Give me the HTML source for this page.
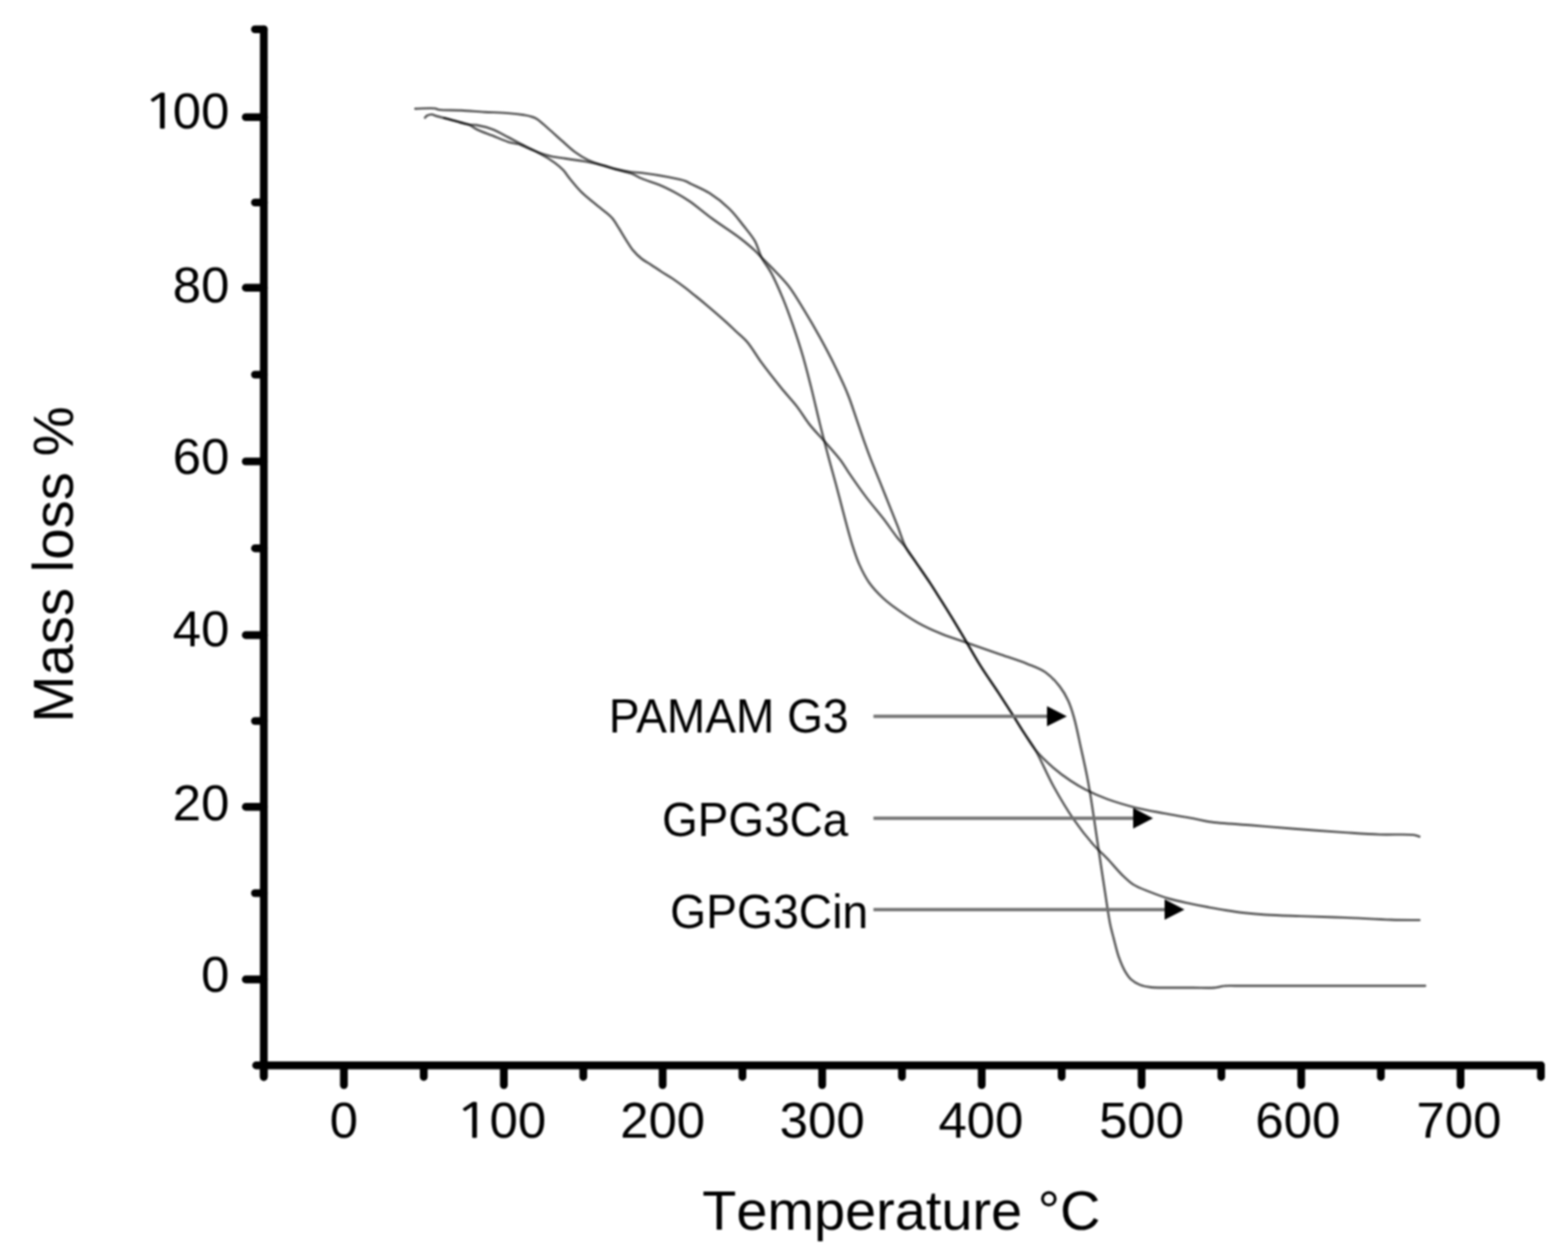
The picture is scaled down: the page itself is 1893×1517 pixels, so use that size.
<!DOCTYPE html>
<html><head><meta charset="utf-8"><title>TGA curves</title>
<style>html,body{margin:0;padding:0;background:#fff;}svg{display:block;}
#wrap{filter:blur(1px);}</style>
</head><body><div id="wrap">
<svg width="1893" height="1517" viewBox="0 0 1893 1517">
<rect width="1893" height="1517" fill="#fff"/>
<path d="M513.1 142.0 C514.0 141.1 514.6 140.0 515.8 139.4 C517.2 138.6 519.5 138.0 521.3 138.1 C523.1 138.2 524.6 139.4 526.7 140.0 C529.4 140.8 532.9 141.5 536.2 142.4 C539.8 143.3 543.8 144.4 547.3 145.4 C550.5 146.3 553.5 147.2 556.6 148.0 C559.7 148.8 562.9 149.9 566.1 150.4 C569.2 150.9 571.9 150.4 575.6 151.0 C580.9 151.9 588.4 153.7 594.6 156.1 C601.1 158.6 607.7 162.6 613.6 165.6 C618.7 168.2 623.6 171.0 627.9 173.2 C631.4 175.0 633.9 176.3 637.4 178.0 C641.6 180.1 646.8 182.9 651.6 184.7 C656.2 186.4 660.5 187.6 665.4 188.7 C670.7 189.9 676.7 190.4 682.3 191.3 C687.9 192.1 694.0 193.0 699.2 193.8 C703.7 194.5 707.2 194.9 711.8 195.8 C717.3 196.9 724.4 198.5 730.0 200.0 C734.8 201.3 738.4 202.8 743.3 204.0 C749.0 205.4 756.6 206.8 762.3 207.6 C766.9 208.2 769.8 208.0 774.9 208.6 C783.1 209.6 797.1 211.8 806.6 213.7 C814.4 215.2 822.7 216.8 827.7 218.6 C830.6 219.7 831.4 220.6 834.3 222.0 C839.5 224.6 849.2 228.5 856.5 233.1 C864.6 238.2 873.5 245.2 880.5 252.0 C887.1 258.4 892.4 265.8 897.7 272.5 C902.6 278.7 907.7 284.5 911.4 291.0 C914.9 297.3 916.1 304.4 919.4 310.8 C922.8 317.4 927.5 322.7 931.4 330.0 C936.1 338.8 940.8 349.8 945.1 360.0 C949.4 370.4 953.2 380.9 957.1 392.0 C961.2 403.9 965.4 416.5 969.1 429.1 C972.9 441.9 976.0 454.7 979.4 468.0 C982.9 482.0 986.3 497.2 989.7 511.0 C992.9 524.0 996.1 536.1 999.4 548.6 C1002.7 561.2 1006.3 573.6 1009.7 586.3 C1013.2 599.3 1016.7 613.4 1020.0 625.7 C1022.9 636.6 1025.6 646.9 1028.6 656.5 C1031.3 665.0 1033.7 672.8 1037.1 680.5 C1040.5 688.2 1044.3 695.9 1049.1 702.8 C1054.0 709.8 1061.0 717.0 1066.3 722.0 C1070.2 725.7 1072.5 727.4 1077.1 730.8 C1084.7 736.4 1097.6 745.5 1108.0 751.4 C1117.6 756.8 1127.3 761.1 1137.1 765.1 C1146.7 769.1 1155.8 771.7 1166.3 775.4 C1178.4 779.7 1193.0 784.7 1205.7 789.1 C1217.5 793.2 1229.9 797.0 1240.0 801.1 C1248.3 804.5 1255.6 806.8 1262.2 811.4 C1268.7 816.0 1274.7 822.5 1279.4 828.5 C1283.7 834.0 1286.8 839.6 1289.6 845.7 C1292.5 852.0 1294.4 858.2 1296.6 866.0 C1299.6 876.4 1302.3 890.7 1305.0 902.8 C1307.6 914.4 1310.2 925.6 1312.4 937.1 C1314.6 948.5 1316.5 960.0 1318.3 971.4 C1320.1 982.8 1321.7 994.3 1323.4 1005.7 C1325.1 1017.1 1326.8 1028.6 1328.5 1040.0 C1330.2 1051.4 1332.1 1063.8 1333.7 1074.2 C1335.0 1082.9 1336.1 1090.5 1337.3 1098.0 C1338.4 1104.7 1339.3 1111.0 1340.6 1117.0 C1341.8 1122.5 1343.1 1127.1 1344.6 1132.8 C1346.4 1139.6 1348.3 1148.2 1350.7 1155.0 C1352.9 1161.1 1355.3 1167.1 1358.1 1171.9 C1360.4 1175.8 1362.5 1179.2 1365.5 1182.0 C1368.5 1184.8 1372.2 1186.9 1376.1 1188.5 C1380.2 1190.2 1384.8 1190.9 1389.8 1191.5 C1395.9 1192.2 1402.6 1191.9 1410.0 1192.0 C1419.0 1192.1 1430.4 1192.0 1440.0 1192.0 C1449.0 1192.0 1460.4 1192.5 1466.0 1192.0 C1468.7 1191.8 1470.0 1191.3 1472.0 1191.0 C1474.0 1190.6 1475.4 1190.1 1478.0 1189.9 C1483.0 1189.4 1490.0 1189.8 1500.0 1189.8 C1521.3 1189.8 1565.1 1189.8 1600.0 1189.8 C1638.3 1189.8 1680.3 1189.8 1720.5 1189.8" fill="none" stroke="#000" stroke-opacity="0.64" stroke-width="2.9" stroke-linejoin="round" stroke-linecap="round"/>
<path d="M501.4 131.2 C509.3 131.1 520.1 130.2 525.0 130.9 C527.3 131.2 527.6 132.0 530.0 132.4 C535.3 133.3 547.6 132.8 556.6 133.3 C565.9 133.8 575.6 134.6 585.1 135.2 C594.6 135.7 605.1 135.9 613.6 136.6 C620.6 137.2 627.6 138.0 632.6 138.8 C636.0 139.4 638.4 139.8 641.0 140.6 C643.5 141.4 645.4 141.8 648.0 143.4 C652.1 145.9 657.4 151.3 662.3 155.5 C667.5 160.0 672.8 165.0 678.1 169.7 C683.4 174.3 688.5 179.4 694.0 183.4 C699.1 187.1 704.4 190.4 709.8 193.0 C715.0 195.5 720.2 197.1 725.6 199.0 C731.3 200.9 737.3 202.7 743.3 204.4 C749.5 206.2 756.7 207.4 762.3 209.5 C767.0 211.2 770.1 213.5 774.9 215.5 C781.0 218.1 789.0 220.2 796.0 223.2 C803.1 226.2 810.6 230.0 817.1 233.5 C822.9 236.7 827.1 239.2 833.0 243.2 C840.9 248.7 850.4 256.9 860.0 264.0 C870.6 271.8 884.9 280.8 894.2 288.0 C901.0 293.3 906.8 298.2 911.4 302.5 C914.7 305.6 916.4 307.8 919.4 310.8 C923.0 314.4 926.9 318.1 931.4 322.8 C937.4 329.0 945.6 336.9 952.0 345.1 C958.8 353.9 964.6 364.2 970.8 374.3 C977.2 384.8 983.5 395.6 989.7 406.8 C996.1 418.4 1002.7 430.9 1008.5 442.8 C1014.1 454.3 1019.6 466.0 1024.0 477.1 C1028.0 487.1 1030.8 496.4 1034.2 506.2 C1037.6 516.1 1041.4 527.5 1044.5 536.0 C1046.8 542.5 1048.3 546.6 1050.8 553.0 C1054.1 561.6 1059.0 573.2 1062.8 582.8 C1066.4 591.7 1069.7 599.9 1073.1 608.5 C1076.5 617.1 1080.0 625.5 1083.4 634.2 C1086.9 643.0 1089.6 653.2 1093.7 661.0 C1097.2 667.7 1101.3 672.1 1105.7 678.5 C1110.9 686.1 1118.0 696.3 1122.8 703.5 C1126.4 709.0 1128.8 712.9 1132.0 718.0 C1135.6 723.7 1140.0 730.6 1143.4 736.0 C1146.1 740.4 1147.9 743.2 1150.8 748.0 C1155.0 755.0 1161.0 765.1 1166.3 774.0 C1171.9 783.4 1177.2 793.1 1183.4 803.0 C1190.2 813.9 1198.8 826.0 1205.7 836.5 C1211.7 845.7 1217.2 854.2 1222.5 862.5 C1227.3 870.0 1231.4 876.9 1236.0 884.0 C1240.5 891.0 1244.2 897.9 1249.7 904.6 C1255.9 912.2 1264.5 920.3 1272.0 926.8 C1278.8 932.7 1285.8 937.8 1292.5 942.3 C1298.4 946.2 1303.2 949.2 1309.7 952.5 C1317.7 956.6 1327.3 960.9 1337.1 964.5 C1347.8 968.4 1359.9 971.9 1371.4 974.8 C1382.8 977.6 1394.3 979.5 1405.7 981.7 C1417.1 983.8 1430.1 985.8 1440.0 987.7 C1447.6 989.1 1451.7 990.5 1460.0 991.7 C1473.1 993.6 1494.3 994.6 1511.4 996.0 C1528.5 997.4 1545.0 998.9 1562.8 1000.3 C1582.0 1001.8 1604.5 1003.4 1622.8 1004.6 C1638.3 1005.6 1651.5 1006.6 1665.6 1007.1 C1679.4 1007.6 1698.8 1006.4 1706.7 1007.6 C1710.0 1008.1 1711.3 1009.0 1713.6 1009.7" fill="none" stroke="#000" stroke-opacity="0.64" stroke-width="2.9" stroke-linejoin="round" stroke-linecap="round"/>
<path d="M536.2 142.4 C539.9 143.4 543.8 144.4 547.3 145.4 C550.5 146.3 553.5 147.2 556.6 148.0 C559.7 148.8 563.0 149.1 566.1 150.4 C569.4 151.8 571.8 154.2 575.6 156.1 C580.8 158.7 588.3 161.2 594.6 163.7 C600.9 166.2 608.3 169.7 613.6 171.3 C617.3 172.4 620.5 172.8 623.1 173.4 C625.0 173.8 626.1 173.9 627.9 174.5 C630.6 175.4 633.9 177.2 637.4 178.8 C641.7 180.7 646.7 182.6 651.6 185.2 C657.3 188.2 664.5 192.6 669.6 196.3 C673.7 199.3 677.0 202.1 680.0 205.3 C682.9 208.3 684.5 211.4 687.4 215.0 C691.2 219.7 696.5 226.3 701.1 231.0 C705.3 235.2 709.3 238.4 713.8 242.2 C718.7 246.3 725.0 251.0 729.6 254.8 C733.2 257.9 736.2 260.0 739.1 263.3 C742.2 266.9 744.7 271.6 747.5 275.9 C750.3 280.4 753.0 285.2 755.9 289.7 C758.7 294.0 761.2 298.5 764.4 302.3 C767.5 306.1 771.2 309.6 774.9 312.5 C778.3 315.2 781.8 316.8 785.5 319.2 C789.5 321.8 793.8 324.8 798.1 327.6 C802.5 330.5 807.1 333.0 811.8 336.1 C817.0 339.6 822.8 343.9 827.7 347.7 C832.1 351.1 836.0 354.3 840.0 357.5 C843.9 360.6 846.9 363.0 851.4 366.8 C858.3 372.6 870.3 382.9 877.1 389.1 C881.7 393.3 884.6 396.2 888.6 400.0 C893.0 404.1 897.8 407.7 902.3 413.0 C908.0 419.7 913.1 429.1 919.4 437.7 C926.6 447.5 935.8 459.1 943.4 468.5 C950.0 476.6 956.5 483.3 962.3 490.8 C967.7 497.8 971.8 505.2 977.1 512.0 C982.4 518.8 988.3 524.6 994.3 531.4 C1000.9 538.9 1009.3 548.1 1014.8 555.4 C1019.0 561.0 1021.0 565.0 1025.1 571.0 C1030.7 579.2 1038.7 590.7 1045.7 600.0 C1052.4 608.9 1059.8 617.3 1066.3 625.7 C1072.4 633.6 1078.3 642.6 1083.4 649.0 C1087.2 653.7 1090.3 656.5 1093.7 661.0 C1097.7 666.2 1101.3 672.1 1105.7 678.5 C1110.9 686.1 1118.0 696.3 1122.8 703.5 C1126.4 709.0 1128.8 712.9 1132.0 718.0 C1135.6 723.7 1140.0 730.6 1143.4 736.0 C1146.1 740.4 1147.9 743.2 1150.8 748.0 C1155.0 755.0 1161.0 765.1 1166.3 774.0 C1171.9 783.4 1177.2 793.1 1183.4 803.0 C1190.2 813.9 1198.8 826.0 1205.7 836.5 C1211.7 845.7 1217.2 854.2 1222.5 862.5 C1227.3 870.0 1231.4 876.9 1236.0 884.0 C1240.5 891.0 1244.9 896.2 1249.7 904.6 C1256.6 916.4 1264.1 934.9 1272.0 949.1 C1279.6 962.8 1287.6 976.4 1296.0 988.5 C1303.7 999.7 1312.4 1010.8 1320.0 1019.4 C1326.0 1026.2 1331.5 1030.6 1337.1 1036.5 C1342.9 1042.6 1348.6 1050.0 1354.2 1055.4 C1358.9 1060.0 1362.7 1064.0 1368.0 1067.4 C1373.9 1071.2 1381.5 1073.7 1388.5 1076.5 C1395.8 1079.4 1403.1 1082.2 1411.0 1084.5 C1419.4 1086.9 1429.0 1088.8 1437.3 1090.6 C1444.7 1092.2 1451.4 1093.5 1458.5 1094.8 C1465.5 1096.1 1472.4 1097.4 1479.6 1098.5 C1487.1 1099.7 1494.9 1100.9 1502.8 1101.8 C1511.1 1102.7 1518.9 1103.4 1528.5 1104.0 C1540.6 1104.8 1555.1 1105.1 1569.7 1105.6 C1586.3 1106.2 1604.8 1106.7 1622.8 1107.4 C1641.3 1108.1 1662.8 1109.5 1679.3 1110.0 C1692.1 1110.4 1702.2 1110.3 1713.6 1110.4" fill="none" stroke="#000" stroke-opacity="0.64" stroke-width="2.9" stroke-linejoin="round" stroke-linecap="round"/>
<line x1="1054.5" y1="864.4" x2="1266.0" y2="864.4" stroke="#727272" stroke-width="4.0"/>
<polygon points="1264.0,852.2 1288.0,864.4 1264.0,876.6" fill="#000"/>
<line x1="1054.5" y1="987.6" x2="1370.0" y2="987.6" stroke="#727272" stroke-width="4.0"/>
<polygon points="1368.0,975.1 1392.0,987.6 1368.0,1000.1" fill="#000"/>
<line x1="1054.5" y1="1097.7" x2="1408.0" y2="1097.7" stroke="#727272" stroke-width="4.0"/>
<polygon points="1406.0,1085.3 1430.0,1097.7 1406.0,1110.1" fill="#000"/>
<line x1="318.5" y1="35.4" x2="318.5" y2="1299.8" stroke="#000" stroke-width="9.4" stroke-linecap="round" fill="none"/>
<line x1="309.2" y1="1285.8" x2="1860.3" y2="1285.8" stroke="#000" stroke-width="9.4" stroke-linecap="round" fill="none"/>
<line x1="296.7" y1="141.4" x2="318.5" y2="141.4" stroke="#000" stroke-width="9.4" stroke-linecap="round" fill="none"/>
<line x1="296.7" y1="347.3" x2="318.5" y2="347.3" stroke="#000" stroke-width="9.4" stroke-linecap="round" fill="none"/>
<line x1="296.7" y1="556.9" x2="318.5" y2="556.9" stroke="#000" stroke-width="9.4" stroke-linecap="round" fill="none"/>
<line x1="296.7" y1="766.5" x2="318.5" y2="766.5" stroke="#000" stroke-width="9.4" stroke-linecap="round" fill="none"/>
<line x1="296.7" y1="973.7" x2="318.5" y2="973.7" stroke="#000" stroke-width="9.4" stroke-linecap="round" fill="none"/>
<line x1="296.7" y1="1182.0" x2="318.5" y2="1182.0" stroke="#000" stroke-width="9.4" stroke-linecap="round" fill="none"/>
<line x1="307.8" y1="35.4" x2="318.5" y2="35.4" stroke="#000" stroke-width="9.4" stroke-linecap="round" fill="none"/>
<line x1="307.8" y1="244.4" x2="318.5" y2="244.4" stroke="#000" stroke-width="9.4" stroke-linecap="round" fill="none"/>
<line x1="307.8" y1="452.1" x2="318.5" y2="452.1" stroke="#000" stroke-width="9.4" stroke-linecap="round" fill="none"/>
<line x1="307.8" y1="661.7" x2="318.5" y2="661.7" stroke="#000" stroke-width="9.4" stroke-linecap="round" fill="none"/>
<line x1="307.8" y1="870.1" x2="318.5" y2="870.1" stroke="#000" stroke-width="9.4" stroke-linecap="round" fill="none"/>
<line x1="307.8" y1="1077.9" x2="318.5" y2="1077.9" stroke="#000" stroke-width="9.4" stroke-linecap="round" fill="none"/>
<line x1="415.2" y1="1285.8" x2="415.2" y2="1309.6" stroke="#000" stroke-width="9.4" stroke-linecap="round" fill="none"/>
<line x1="608.3" y1="1285.8" x2="608.3" y2="1309.6" stroke="#000" stroke-width="9.4" stroke-linecap="round" fill="none"/>
<line x1="800.0" y1="1285.8" x2="800.0" y2="1309.6" stroke="#000" stroke-width="9.4" stroke-linecap="round" fill="none"/>
<line x1="992.6" y1="1285.8" x2="992.6" y2="1309.6" stroke="#000" stroke-width="9.4" stroke-linecap="round" fill="none"/>
<line x1="1185.2" y1="1285.8" x2="1185.2" y2="1309.6" stroke="#000" stroke-width="9.4" stroke-linecap="round" fill="none"/>
<line x1="1378.2" y1="1285.8" x2="1378.2" y2="1309.6" stroke="#000" stroke-width="9.4" stroke-linecap="round" fill="none"/>
<line x1="1570.9" y1="1285.8" x2="1570.9" y2="1309.6" stroke="#000" stroke-width="9.4" stroke-linecap="round" fill="none"/>
<line x1="1763.3" y1="1285.8" x2="1763.3" y2="1309.6" stroke="#000" stroke-width="9.4" stroke-linecap="round" fill="none"/>
<line x1="318.5" y1="1285.8" x2="318.5" y2="1299.8" stroke="#000" stroke-width="9.4" stroke-linecap="round" fill="none"/>
<line x1="511.6" y1="1285.8" x2="511.6" y2="1299.8" stroke="#000" stroke-width="9.4" stroke-linecap="round" fill="none"/>
<line x1="704.2" y1="1285.8" x2="704.2" y2="1299.8" stroke="#000" stroke-width="9.4" stroke-linecap="round" fill="none"/>
<line x1="896.3" y1="1285.8" x2="896.3" y2="1299.8" stroke="#000" stroke-width="9.4" stroke-linecap="round" fill="none"/>
<line x1="1088.9" y1="1285.8" x2="1088.9" y2="1299.8" stroke="#000" stroke-width="9.4" stroke-linecap="round" fill="none"/>
<line x1="1281.7" y1="1285.8" x2="1281.7" y2="1299.8" stroke="#000" stroke-width="9.4" stroke-linecap="round" fill="none"/>
<line x1="1474.5" y1="1285.8" x2="1474.5" y2="1299.8" stroke="#000" stroke-width="9.4" stroke-linecap="round" fill="none"/>
<line x1="1667.1" y1="1285.8" x2="1667.1" y2="1299.8" stroke="#000" stroke-width="9.4" stroke-linecap="round" fill="none"/>
<line x1="1860.3" y1="1285.8" x2="1860.3" y2="1299.8" stroke="#000" stroke-width="9.4" stroke-linecap="round" fill="none"/>
<text font-family="'Liberation Sans', sans-serif" y="155.3" font-size="61.5" fill="#000"><tspan x="172.2" font-family="NanumGothic, 'Liberation Sans', sans-serif" font-size="57" stroke="#000" stroke-width="0.6" textLength="43.2" lengthAdjust="spacingAndGlyphs">1</tspan><tspan x="208.6">00</tspan></text>
<text font-family="'Liberation Sans', sans-serif" x="277.0" y="364.8" font-size="61.5" text-anchor="end" fill="#000">80</text>
<text font-family="'Liberation Sans', sans-serif" x="277.0" y="572.4" font-size="61.5" text-anchor="end" fill="#000">60</text>
<text font-family="'Liberation Sans', sans-serif" x="277.0" y="780.0" font-size="61.5" text-anchor="end" fill="#000">40</text>
<text font-family="'Liberation Sans', sans-serif" x="277.0" y="990.3" font-size="61.5" text-anchor="end" fill="#000">20</text>
<text font-family="'Liberation Sans', sans-serif" x="277.0" y="1196.9" font-size="61.5" text-anchor="end" fill="#000">0</text>
<text font-family="'Liberation Sans', sans-serif" x="415.2" y="1372.8" font-size="61.5" text-anchor="middle" fill="#000">0</text>
<text font-family="'Liberation Sans', sans-serif" y="1372.8" font-size="61.5" fill="#000"><tspan x="549.0" font-family="NanumGothic, 'Liberation Sans', sans-serif" font-size="57" stroke="#000" stroke-width="0.6" textLength="43.2" lengthAdjust="spacingAndGlyphs">1</tspan><tspan x="591.0">00</tspan></text>
<text font-family="'Liberation Sans', sans-serif" x="800.0" y="1372.8" font-size="61.5" text-anchor="middle" fill="#000">200</text>
<text font-family="'Liberation Sans', sans-serif" x="992.6" y="1372.8" font-size="61.5" text-anchor="middle" fill="#000">300</text>
<text font-family="'Liberation Sans', sans-serif" x="1184.2" y="1372.8" font-size="61.5" text-anchor="middle" fill="#000">400</text>
<text font-family="'Liberation Sans', sans-serif" x="1378.2" y="1372.8" font-size="61.5" text-anchor="middle" fill="#000">500</text>
<text font-family="'Liberation Sans', sans-serif" x="1566.9" y="1372.8" font-size="61.5" text-anchor="middle" fill="#000">600</text>
<text font-family="'Liberation Sans', sans-serif" x="1761.3" y="1372.8" font-size="61.5" text-anchor="middle" fill="#000">700</text>
<text font-family="'Liberation Sans', sans-serif" x="847.7" y="1483.5" font-size="67" style="font-kerning:none" textLength="480.8" lengthAdjust="spacingAndGlyphs" fill="#000">Temperature °C</text>
<text font-family="'Liberation Sans', sans-serif" x="0" y="0" font-size="68" transform="translate(87.5 872.0) rotate(-90)" fill="#000">Mass loss %</text>
<text font-family="'Liberation Sans', sans-serif" x="735.0" y="884.3" font-size="57.5" textLength="289.5" lengthAdjust="spacingAndGlyphs" fill="#000">PAMAM G3</text>
<text font-family="'Liberation Sans', sans-serif" x="799.2" y="1008.6" font-size="58.0" textLength="225.0" lengthAdjust="spacingAndGlyphs" fill="#000">GPG3Ca</text>
<text font-family="'Liberation Sans', sans-serif" x="809.0" y="1119.6" font-size="58.0" textLength="239.2" lengthAdjust="spacingAndGlyphs" fill="#000">GPG3Cin</text>
</svg>
</div></body></html>
